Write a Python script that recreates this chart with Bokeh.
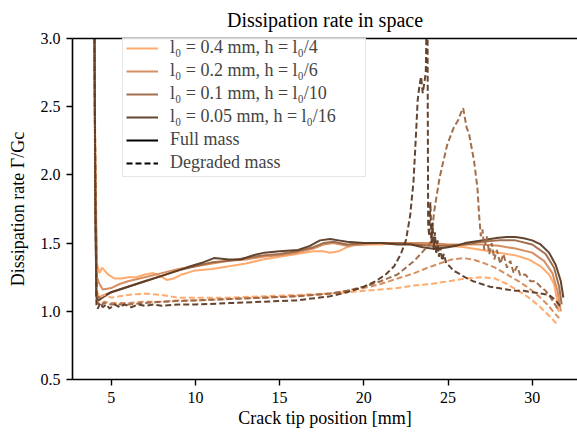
from bokeh.plotting import figure
from bokeh.models import Range1d, LinearAxis, FixedTicker, Legend, LegendItem
from bokeh.embed import file_html
from bokeh.resources import INLINE

# ---------------- data ----------------
labels = ["l\u2080 = 0.4 mm, h = l\u2080/4", "l\u2080 = 0.2 mm, h = l\u2080/6",
          "l\u2080 = 0.1 mm, h = l\u2080/10", "l\u2080 = 0.05 mm, h = l\u2080/16"]
colors = ["#FFA566", "#D4895A", "#9C6744", "#5B3A25"]

# Full mass (solid)
full_x_04 = [4.0, 4.05, 4.15, 4.3, 4.45, 4.6, 4.8, 5.2, 5.6, 6.0, 6.5, 7.0, 7.5, 7.9, 8.3, 8.7, 9.2, 10.0,
             11.0, 12.0, 13.0, 14.0, 15.0, 16.0, 17.0, 17.6, 18.0, 18.5, 19.0, 19.5, 20.0, 21.0, 22.0, 23.0,
             24.0, 25.0, 26.0, 27.0, 28.0, 29.0, 29.8, 30.5, 31.0, 31.3, 31.45, 31.55]
full_y_04 = [3.2, 2.2, 1.35, 1.28, 1.32, 1.30, 1.27, 1.24, 1.24, 1.25, 1.25, 1.27, 1.28, 1.26, 1.23, 1.24, 1.27, 1.30,
             1.31, 1.33, 1.35, 1.38, 1.40, 1.42, 1.44, 1.44, 1.43, 1.44, 1.47, 1.49, 1.49, 1.49, 1.50, 1.49,
             1.49, 1.48, 1.47, 1.45, 1.43, 1.41, 1.38, 1.33, 1.27, 1.20, 1.10, 1.00]

full_x_02 = [4.0, 4.05, 4.15, 4.3, 4.5, 5.0, 5.5, 6.0, 7.0, 8.0, 9.0, 10.0, 11.0, 12.0, 13.0, 14.0, 15.0, 16.0,
             17.0, 17.6, 18.2, 19.0, 20.0, 21.0, 22.0, 23.0, 24.0, 25.0, 26.0, 27.0, 28.0, 29.0, 30.0, 30.7,
             31.2, 31.5, 31.7]
full_y_02 = [3.2, 2.0, 1.25, 1.20, 1.16, 1.17, 1.20, 1.22, 1.25, 1.28, 1.31, 1.33, 1.35, 1.37, 1.38, 1.40, 1.41, 1.43,
             1.46, 1.49, 1.50, 1.48, 1.49, 1.50, 1.50, 1.50, 1.50, 1.49, 1.49, 1.49, 1.48, 1.46, 1.43, 1.37,
             1.28, 1.15, 1.00]

full_x_01 = [4.0, 4.05, 4.12, 4.25, 4.6, 5.0, 6.0, 7.0, 8.0, 9.0, 10.0, 11.0, 12.0, 13.0, 14.0, 15.0, 16.0,
             17.0, 17.6, 18.2, 19.0, 20.0, 21.0, 22.0, 23.0, 24.0, 25.0, 26.0, 27.0, 28.0, 29.0, 30.0, 30.8,
             31.3, 31.6, 31.75]
full_y_01 = [3.2, 1.9, 1.12, 1.10, 1.12, 1.14, 1.18, 1.22, 1.26, 1.30, 1.33, 1.36, 1.37, 1.39, 1.41, 1.42, 1.44,
             1.47, 1.50, 1.51, 1.49, 1.50, 1.50, 1.50, 1.49, 1.48, 1.48, 1.49, 1.51, 1.52, 1.52, 1.49, 1.42,
             1.32, 1.18, 1.05]

full_x_005 = [4.0, 4.05, 4.12, 4.25, 4.6, 5.0, 6.0, 7.0, 8.0, 9.0, 9.7, 10.5, 11.1, 12.0, 12.7, 13.4, 14.1, 15.0,
              16.1, 16.8, 17.4, 18.0, 18.5, 19.0, 20.0, 21.0, 22.0, 22.8, 23.5, 24.0, 24.5, 25.0, 25.5, 26.0,
              26.5, 27.0, 27.5, 28.0, 28.5, 29.0, 29.5, 30.0, 30.5, 31.0, 31.4, 31.7, 31.85]
full_y_005 = [3.2, 1.8, 1.10, 1.08, 1.11, 1.14, 1.18, 1.22, 1.26, 1.30, 1.33, 1.36, 1.39, 1.38, 1.38, 1.41, 1.43, 1.44,
              1.45, 1.48, 1.52, 1.53, 1.52, 1.51, 1.50, 1.50, 1.49, 1.49, 1.47, 1.46, 1.46, 1.47, 1.48, 1.50,
              1.51, 1.52, 1.53, 1.54, 1.545, 1.545, 1.535, 1.52, 1.49, 1.43, 1.34, 1.22, 1.10]

# Degraded mass (dashed)
deg_x_04 = [4.0, 4.05, 4.15, 4.3, 4.6, 5.0, 5.5, 6.0, 7.0, 8.0, 9.0, 10.0, 12.0, 14.0, 16.0, 18.0, 19.0, 20.0,
            21.0, 22.0, 23.0, 24.0, 25.0, 26.0, 27.0, 27.8, 28.5, 29.2, 29.8, 30.4, 30.9, 31.3, 31.5]
deg_y_04 = [3.2, 2.0, 1.15, 1.10, 1.12, 1.10, 1.11, 1.12, 1.13, 1.12, 1.10, 1.10, 1.10, 1.11, 1.12, 1.13, 1.14, 1.15,
            1.16, 1.17, 1.19, 1.20, 1.22, 1.24, 1.25, 1.24, 1.20, 1.15, 1.10, 1.04, 0.98, 0.93, 0.90]

deg_x_02 = [4.0, 4.05, 4.15, 4.3, 4.6, 5.0, 6.0, 7.0, 8.0, 9.0, 10.0, 12.0, 14.0, 16.0, 18.0, 19.0, 20.0, 21.0,
            22.0, 23.0, 23.8, 24.5, 25.2, 25.9, 26.5, 27.2, 27.8, 28.5, 29.2, 29.8, 30.4, 30.9, 31.3, 31.6]
deg_y_02 = [3.2, 2.0, 1.08, 1.05, 1.07, 1.06, 1.06, 1.07, 1.07, 1.08, 1.08, 1.09, 1.10, 1.11, 1.13, 1.15, 1.17, 1.20,
            1.24, 1.28, 1.32, 1.35, 1.38, 1.39, 1.38, 1.35, 1.32, 1.27, 1.22, 1.17, 1.11, 1.05, 0.99, 0.95]

deg_x_01 = [4.0, 4.05, 4.15, 4.3, 4.6, 5.0, 6.0, 7.0, 8.0, 10.0, 12.0, 14.0, 16.0, 18.0, 19.0, 20.0, 21.0, 22.0,
            23.0, 23.96, 24.2, 24.5, 24.95, 25.35, 25.6, 25.75, 25.9, 26.0, 26.1, 26.25, 26.4, 26.55, 26.65,
            26.75, 26.85, 26.95, 27.05, 27.15, 27.3, 27.45, 27.6, 27.75, 27.9, 28.1, 28.3, 28.5, 28.7, 28.9,
            29.1, 29.3, 29.6, 29.9, 30.2, 30.5, 30.8, 31.1, 31.4, 31.6]
deg_y_01 = [3.2, 2.0, 1.07, 1.04, 1.06, 1.05, 1.05, 1.06, 1.07, 1.08, 1.09, 1.10, 1.11, 1.13, 1.15, 1.18, 1.22, 1.27,
            1.37, 1.50, 1.75, 1.98, 2.22, 2.35, 2.40, 2.45, 2.49, 2.42, 2.35, 2.30, 2.20, 2.10, 2.00,
            1.90, 1.70, 1.55, 1.60, 1.45, 1.55, 1.42, 1.50, 1.38, 1.45, 1.35, 1.42, 1.32, 1.37, 1.28,
            1.33, 1.26, 1.27, 1.22, 1.22, 1.18, 1.15, 1.10, 1.04, 1.00]

deg_x_005 = [4.0, 4.05, 4.12, 4.2, 4.35, 4.5, 4.7, 4.9, 5.2, 5.5, 5.8, 6.2, 6.6, 7.0, 7.5, 8.0, 9.0, 10.0, 12.0,
             14.0, 16.0, 18.0, 19.0, 20.0, 20.7, 21.3, 21.8, 22.2, 22.5, 22.75, 22.95, 23.1, 23.2, 23.3, 23.4,
             23.5, 23.6, 23.68, 23.74, 23.78, 23.82, 23.88, 23.95, 24.02, 24.08, 24.15, 24.22, 24.3, 24.38,
             24.46, 24.55, 24.65, 24.75, 24.9, 25.1, 25.3, 25.6, 26.0, 26.5, 27.0, 27.5, 28.0, 28.5, 29.0,
             29.5, 30.0, 30.5, 31.0, 31.4, 31.7]
deg_y_005 = [3.2, 2.0, 1.05, 1.02, 1.06, 1.03, 1.05, 1.02, 1.05, 1.03, 1.05, 1.03, 1.05, 1.04, 1.05, 1.04, 1.05, 1.05,
             1.06, 1.07, 1.08, 1.11, 1.14, 1.18, 1.22, 1.27, 1.33, 1.42, 1.52, 1.70, 1.95, 2.30, 2.55, 2.65,
             2.72, 2.60, 2.68, 2.75, 3.20, 3.20, 1.65, 1.55, 1.80, 1.50, 1.65, 1.45, 1.58, 1.42, 1.52,
             1.40, 1.47, 1.37, 1.42, 1.35, 1.33, 1.30, 1.28, 1.25, 1.22, 1.20, 1.18, 1.17, 1.16, 1.15,
             1.15, 1.14, 1.13, 1.12, 1.08, 1.03]

full_series = [(full_x_04, full_y_04), (full_x_02, full_y_02), (full_x_01, full_y_01), (full_x_005, full_y_005)]
deg_series = [(deg_x_04, deg_y_04), (deg_x_02, deg_y_02), (deg_x_01, deg_y_01), (deg_x_005, deg_y_005)]

x_ticks = [5, 10, 15, 20, 25, 30]
y_ticks = [0.5, 1.0, 1.5, 2.0, 2.5, 3.0]

FONT = "Liberation Serif"
NAN = float("nan")

p = figure(width=577, height=436, x_range=Range1d(2.70, 32.69), y_range=Range1d(0.5, 3.0),
           output_backend="svg", toolbar_location=None,
           min_border_left=72, min_border_right=0, min_border_top=38, min_border_bottom=57,
           title="Dissipation rate in space")
p.title.text_font = FONT
p.title.text_font_size = "20px"
p.title.text_font_style = "normal"
p.title.align = "center"
p.title.vertical_align = "top"
p.title.text_color = "black"
p.title.standoff = 12
p.xgrid.visible = False
p.ygrid.visible = False
p.outline_line_color = None
p.background_fill_color = "white"
p.border_fill_color = "white"

dash = "6 3"
LW = 2.0
solid_renderers = []
for (xs, ys), c in zip(full_series, colors):
    r = p.line(xs, ys, line_color=c, line_width=LW, line_alpha=0.95)
    solid_renderers.append(r)
for (xs, ys), c in zip(deg_series, colors):
    p.line(xs, ys, line_color=c, line_width=LW, line_alpha=0.95, line_dash=dash)

# legend-only proxies (no visible data)
r_full = p.line([NAN, NAN], [NAN, NAN], line_color="black", line_width=LW)
r_deg = p.line([NAN, NAN], [NAN, NAN], line_color="black", line_width=LW, line_dash=dash)

items = [LegendItem(label=lab, renderers=[r]) for lab, r in zip(labels, solid_renderers)]
items += [LegendItem(label="Full mass", renderers=[r_full]),
          LegendItem(label="Degraded mass", renderers=[r_deg])]
legend = Legend(items=items, location=(50, 202), margin=0, padding=3, spacing=2,
                glyph_width=32, glyph_height=20, label_height=20, label_standoff=12,
                label_width=192,
                label_text_font=FONT, label_text_font_size="18px",
                border_line_color="#cfcfcf", border_line_width=1,
                background_fill_color="white", background_fill_alpha=0.85)
p.add_layout(legend)

for ax in (p.xaxis[0], p.yaxis[0]):
    ax.axis_line_width = 1.6
    ax.axis_line_color = "black"
    ax.major_tick_line_width = 1.4
    ax.major_tick_line_color = "black"
    ax.major_tick_out = 6
    ax.major_tick_in = 0
    ax.minor_tick_line_color = None
    ax.major_label_text_font = FONT
    ax.major_label_text_font_size = "16px"
    ax.major_label_text_color = "black"
    ax.axis_label_text_font = FONT
    ax.axis_label_text_font_size = "18px"
    ax.axis_label_text_font_style = "normal"
    ax.axis_label_text_color = "black"

p.xaxis[0].ticker = FixedTicker(ticks=x_ticks)
p.yaxis[0].ticker = FixedTicker(ticks=y_ticks)
p.yaxis[0].major_label_overrides = {t: f"{t:.1f}" for t in y_ticks}
p.xaxis[0].axis_label = "Crack tip position [mm]"
p.yaxis[0].axis_label = "Dissipation rate \u0393/Gc"
p.xaxis[0].major_label_standoff = 6
p.xaxis[0].axis_label_standoff = 2
p.yaxis[0].major_label_standoff = 6
p.yaxis[0].axis_label_standoff = 10

top = LinearAxis(ticker=FixedTicker(ticks=[]), major_tick_line_color=None, minor_tick_line_color=None,
                 axis_line_width=1.6, axis_line_color="black")
p.add_layout(top, "above")

open("out.html", "w").write(file_html(p, INLINE))
